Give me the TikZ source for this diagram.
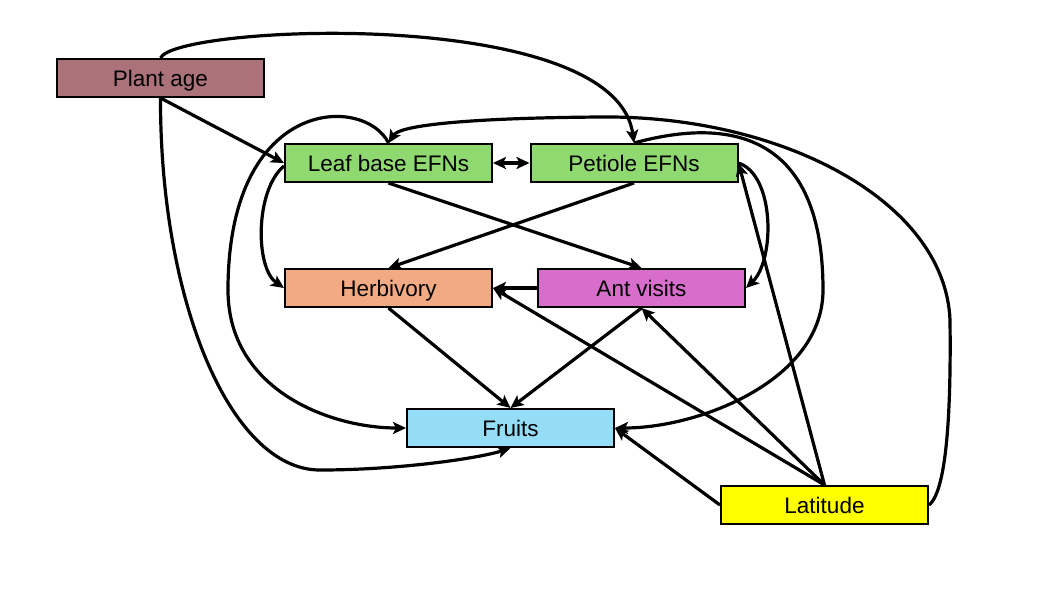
\documentclass[tikz,border=0pt]{standalone}
\usepackage{fontspec}
\setmainfont{Liberation Sans}
\usetikzlibrary{arrows.meta}
\definecolor{cage}{HTML}{AC727A}
\definecolor{cgreen}{HTML}{8FD970}
\definecolor{cherb}{HTML}{F2AA84}
\definecolor{cant}{HTML}{D86ECC}
\definecolor{cfruit}{HTML}{95DCF7}
\definecolor{clat}{HTML}{FFFF00}
\tikzset{
  box/.style={draw=black, line width=2pt, minimum width=207pt, minimum height=38pt, inner sep=0pt,
    text height=18pt, text depth=2pt, font=\fontsize{22.5}{26}\selectfont},
  link/.style={line width=3.2pt, -{Stealth[length=13pt,width=12pt,inset=3pt]}},
  blink/.style={line width=3.2pt, {Stealth[length=13pt,width=12pt,inset=3pt]}-{Stealth[length=13pt,width=12pt,inset=3pt]}}
}
\begin{document}
\begin{tikzpicture}[x=1pt,y=-1pt]
\useasboundingbox (0,0) rectangle (1050,590);
\node[box, fill=cage]   (pa) at (160.5,78)  {Plant age};
\node[box, fill=cgreen] (lb) at (388.5,163) {Leaf base EFNs};
\node[box, fill=cgreen] (pe) at (634,163)   {Petiole EFNs};
\node[box, fill=cherb]  (hb) at (388.5,288) {Herbivory};
\node[box, fill=cant]   (av) at (641.5,288) {Ant visits};
\node[box, fill=cfruit] (fr) at (510.5,428) {Fruits};
\node[box, fill=clat]   (la) at (824.5,505) {Latitude};
\coordinate (m1) at (320,470);
\coordinate (m2) at (228,290);
\coordinate (m3) at (950,320);
\coordinate (m4) at (600,117);
\coordinate (m5) at (823,290);
% straight links
\draw[link] (pa.south) -- (lb.west);
\draw[blink] (lb.east) -- (pe.west);
\draw[link] (lb.south) -- (av.north);
\draw[link] (pe.south) -- (hb.north);
\draw[link] (av.west) -- (hb.east);
\draw[link] (hb.south) -- (fr.north);
\draw[link] (av.south) -- (fr.north);
\draw[link] (la.north) -- (pe.east);
\draw[link] (la.north) -- (av.south);
\draw[link] (la.north) -- (hb.east);
\draw[link] (la.west) -- (fr.east);
% curved links
\draw[link] (pa.north) .. controls (175,25) and (615,5) .. (pe.north);
\draw[link] (pa.south) .. controls (160,300) and (230,470) .. (m1) .. controls (400,470) and (480,458) .. (fr.south);
\draw[link] (lb.north) .. controls (365,95) and (228,95) .. (m2) .. controls (228,390) and (330,428) .. (fr.west);
\draw[link] ([yshift=-3pt]lb.west) .. controls (255,190) and (255,268) .. (hb.west);
\draw[link] (pe.east) .. controls (775,175) and (775,260) .. (av.east);
\draw[link] (la.east) .. controls (948,490) and (951,400) .. (m3) .. controls (945,200) and (780,115) .. (m4) .. controls (470,118) and (400,125) .. (lb.north);
\draw[link] (pe.north) .. controls (700,125) and (823,110) .. (m5) .. controls (823,380) and (700,428) .. (fr.east);
\end{tikzpicture}
\end{document}
